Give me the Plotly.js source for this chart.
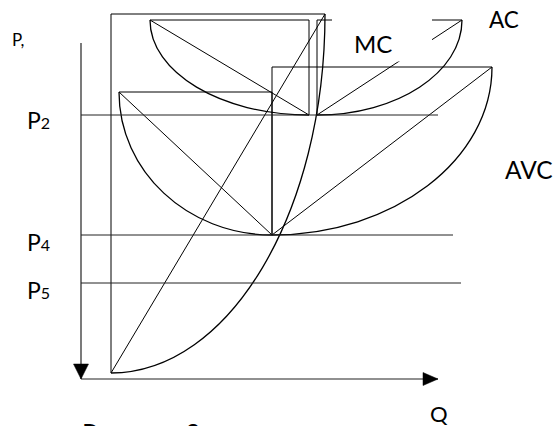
<!DOCTYPE html>
<html><head><meta charset="utf-8">
<script src="https://cdn.plot.ly/plotly-3.0.1.min.js"></script>
<style>html,body{margin:0;padding:0;background:#fff;overflow:hidden}#chart{width:554px;height:426px}</style>
</head><body><div id="chart"></div>
<script>
// Cost curves drawn as quarter-ellipse wedges (Q to the right, P upward, origin at axes corner)
const curveNames = ['MC', 'AC left', 'AC right', 'AVC left', 'AVC right'];
const startQ  = [30, 69, 236, 38, 191];
const startP  = [6, 359, 264, 287, 144];
const endQ    = [244, 228, 381, 191, 411];
const endP    = [365, 264, 359, 144, 312];
const cornerQ = [30, 228, 236, 191, 191];
const cornerP = [365, 359, 359, 287, 312];

// Price levels
const levelNames = ['P2', 'P4', 'P5'];
const levelP     = [264, 144, 96];
const levelEndQ  = [357, 372, 380];

// Axes extents
const axisQEnd = 357;
const axisPTop = 336;

// Labels
const curveLabels = ['MC', 'AC', 'AVC'];
const axisLabels = ['P,', 'Q'];
const caption = 'Рисунок 3';

const BLACK = '#000';
const traces = [];

// wedge sides + chord of every curve
curveNames.forEach((n, i) => {
  traces.push({
    type: 'scatter', mode: 'lines', name: n, hoverinfo: 'skip',
    x: [startQ[i], cornerQ[i], endQ[i], startQ[i]],
    y: [startP[i], cornerP[i], endP[i], startP[i]],
    line: {color: BLACK, width: 1}
  });
});

// price level lines
levelNames.forEach((n, i) => {
  traces.push({
    type: 'scatter', mode: 'lines', name: n, hoverinfo: 'skip',
    x: [0, levelEndQ[i]], y: [levelP[i], levelP[i]],
    line: {color: '#222', width: 1}
  });
});

// axes
traces.push({
  type: 'scatter', mode: 'lines', name: 'P axis', hoverinfo: 'skip',
  x: [0, 0], y: [axisPTop, 0], line: {color: '#222', width: 1.2}
});
traces.push({
  type: 'scatter', mode: 'lines', name: 'Q axis', hoverinfo: 'skip',
  x: [0, axisQEnd], y: [0, 0], line: {color: '#222', width: 1.2}
});
// arrow heads (filled triangles, head length/width as style constants)
const HEAD_L = 15, HEAD_W = 7.5;
traces.push({
  type: 'scatter', mode: 'lines', fill: 'toself', fillcolor: BLACK, hoverinfo: 'skip',
  x: [0, -HEAD_W, HEAD_W, 0], y: [0, HEAD_L, HEAD_L, 0], line: {color: BLACK, width: 0.5}
});
traces.push({
  type: 'scatter', mode: 'lines', fill: 'toself', fillcolor: BLACK, hoverinfo: 'skip',
  x: [axisQEnd, axisQEnd - HEAD_L, axisQEnd - HEAD_L, axisQEnd],
  y: [0, HEAD_W - 1, -(HEAD_W - 1), 0], line: {color: BLACK, width: 0.5}
});

// arcs (cubic Bezier quarter ellipses) as shapes in data coordinates
const K = 0.5523;
const shapes = curveNames.map((n, i) => {
  const ux = startQ[i] - cornerQ[i], uy = startP[i] - cornerP[i];
  const vx = endQ[i] - cornerQ[i],   vy = endP[i] - cornerP[i];
  const c1x = startQ[i] + K * vx, c1y = startP[i] + K * vy;
  const c2x = endQ[i] + K * ux,   c2y = endP[i] + K * uy;
  return {
    type: 'path', xref: 'x', yref: 'y', layer: 'below',
    path: `M${startQ[i]},${startP[i]} C${c1x},${c1y} ${c2x},${c2y} ${endQ[i]},${endP[i]}`,
    line: {color: BLACK, width: 1.3}
  };
});
// white text box behind the MC label
shapes.push({type: 'rect', xref: 'x', yref: 'y', layer: 'above',
  x0: 251, x1: 351, y0: 317.5, y1: 379, fillcolor: '#fff', line: {width: 0}});

const F = 'Lato, "Open Sans", sans-serif';
const ann = (text, x, y, size, xanchor, yanchor) => ({
  text, x, y, xref: 'x', yref: 'y', showarrow: false,
  xanchor: xanchor || 'center', yanchor: yanchor || 'middle',
  font: {family: F, size: size, color: BLACK}
});
const sub = (a, b) => `${a}<span style="font-size:16px">${b}</span>`;

const annotations = [
  ann(axisLabels[0], -63.5, 339.5, 17),
  ann(sub('P', '2'), -56, 259, 23, 'left'),
  ann(sub('P', '4'), -56, 137.5, 23, 'left'),
  ann(sub('P', '5'), -56, 89, 23, 'left'),
  ann(curveLabels[0], 291.5, 335.5, 24),
  ann(curveLabels[1], 423, 359.5, 22.5),
  ann(curveLabels[2], 448, 210, 24.5),
  ann(axisLabels[1], 357.5, -34, 22),
  ann(caption, -1, -35.5, 25.5, 'left', 'top')
];

Plotly.newPlot('chart', traces, {
  width: 554, height: 426,
  margin: {l: 0, r: 0, t: 0, b: 0, pad: 0},
  paper_bgcolor: '#fff', plot_bgcolor: '#fff',
  showlegend: false,
  xaxis: {range: [-81, 473], visible: false, fixedrange: true},
  yaxis: {range: [-47, 379], visible: false, fixedrange: true},
  shapes, annotations
}, {staticPlot: true, displayModeBar: false});
</script>
</body></html>
